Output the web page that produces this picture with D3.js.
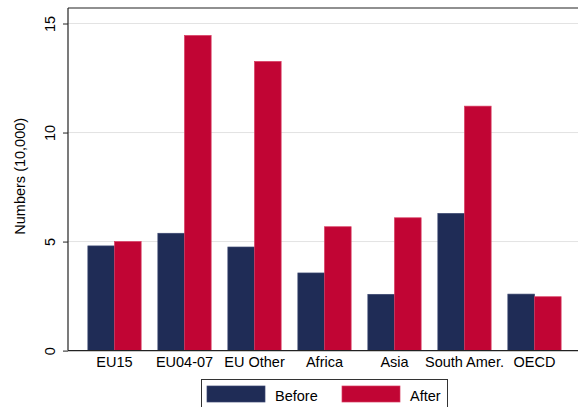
<!DOCTYPE html>
<html>
<head>
<meta charset="utf-8">
<script src="https://cdn.jsdelivr.net/npm/d3@7"></script>
<style>
  body { margin: 0; background: #fff; }
  svg { display: block; font-family: "Liberation Sans", Arial, sans-serif; }
</style>
</head>
<body>
<div id="chart"></div>
<script>
// data
const regions = ["EU15", "EU04-07", "EU Other", "Africa", "Asia", "South Amer.", "OECD"];
const before = [4.80, 5.38, 4.75, 3.56, 2.58, 6.29, 2.59];
const after = [5.00, 14.45, 13.26, 5.68, 6.09, 11.21, 2.47];
const seriesNames = ["Before", "After"];
const yTicks = [0, 5, 10, 15];

const width = 578, height = 407;
const margin = { top: 8, left: 68, bottom: 350.6, right: 581 };
const fontSize = 14.5;

const svg = d3.select("#chart")
  .append("svg")
  .attr("width", width)
  .attr("height", height);

const colors = d3.scaleOrdinal()
  .domain(seriesNames)
  .range(["#1f2c56", "#c10534"]);
const strokes = d3.scaleOrdinal()
  .domain(seriesNames)
  .range(["#3a4670", "#d83a60"]);

// scales
const x0 = d3.scaleBand()
  .domain(regions)
  .range([margin.left, margin.right])
  .paddingInner(0.239)
  .paddingOuter(0.284);
const x1 = d3.scaleBand()
  .domain(seriesNames)
  .range([0, x0.bandwidth()]);
const y = d3.scaleLinear()
  .domain([0, 15])
  .range([margin.bottom, 23.5]);

// gridlines
svg.append("g")
  .selectAll("line")
  .data(yTicks.filter(d => d > 0))
  .enter()
  .append("line")
  .attr("x1", margin.left)
  .attr("x2", width)
  .attr("y1", d => y(d))
  .attr("y2", d => y(d))
  .attr("stroke", "#e3e3e3")
  .attr("stroke-width", 1);

// bars
const rows = regions.map((r, i) => ({ region: r, values: [before[i], after[i]] }));
svg.append("g")
  .selectAll("g")
  .data(rows)
  .enter()
  .append("g")
  .attr("transform", d => `translate(${x0(d.region)},0)`)
  .selectAll("rect")
  .data(d => d.values.map((v, j) => ({ key: seriesNames[j], value: v })))
  .enter()
  .append("rect")
  .attr("x", d => x1(d.key))
  .attr("width", x1.bandwidth())
  .attr("y", d => y(d.value))
  .attr("height", d => y(0) - y(d.value))
  .attr("fill", d => colors(d.key))
  .attr("stroke", d => strokes(d.key))
  .attr("stroke-width", 0.7);

// frame: top and bottom lines (plot runs off the right edge)
svg.append("line")
  .attr("x1", margin.left).attr("x2", width + 5)
  .attr("y1", margin.top).attr("y2", margin.top)
  .attr("stroke", "#222").attr("stroke-width", 1.2);
svg.append("line")
  .attr("x1", margin.left).attr("x2", width + 5)
  .attr("y1", y(0)).attr("y2", y(0))
  .attr("stroke", "#222").attr("stroke-width", 1.2);

// y axis
const yAxis = svg.append("g")
  .attr("transform", `translate(${margin.left},0)`)
  .call(d3.axisLeft(y).tickValues(yTicks).tickSize(5).tickPadding(0));
yAxis.select(".domain")
  .attr("d", `M0,${margin.top}V${y(0)}`)
  .attr("stroke", "#222")
  .attr("stroke-width", 1.2);
yAxis.selectAll(".tick line").attr("stroke", "#222");
yAxis.selectAll(".tick text")
  .attr("transform", "rotate(-90)")
  .attr("x", 0)
  .attr("y", -13)
  .attr("dy", 0)
  .attr("text-anchor", "middle")
  .attr("font-size", fontSize)
  .attr("font-family", "Liberation Sans, Arial, sans-serif")
  .attr("fill", "#000");

// y axis title
svg.append("text")
  .attr("transform", `translate(25,${(margin.top + y(0)) / 2 - 3}) rotate(-90)`)
  .attr("text-anchor", "middle")
  .attr("font-size", fontSize)
  .attr("fill", "#000")
  .text("Numbers (10,000)");

// x labels
svg.append("g")
  .selectAll("text")
  .data(regions)
  .enter()
  .append("text")
  .attr("x", d => x0(d) + x0.bandwidth() / 2)
  .attr("y", 367)
  .attr("text-anchor", "middle")
  .attr("font-size", fontSize)
  .attr("fill", "#000")
  .text(d => d);

// legend
const legend = svg.append("g");
legend.append("rect")
  .attr("x", 201.5).attr("y", 379.5)
  .attr("width", 246).attr("height", 40)
  .attr("fill", "#fff")
  .attr("stroke", "#333")
  .attr("stroke-width", 1);
const legendX = [207, 342];
const items = legend.selectAll("g")
  .data(seriesNames)
  .enter()
  .append("g")
  .attr("transform", (d, i) => `translate(${legendX[i]},386)`);
items.append("rect")
  .attr("width", 58)
  .attr("height", 16)
  .attr("fill", d => colors(d))
  .attr("stroke", d => strokes(d))
  .attr("stroke-width", 0.7);
items.append("text")
  .attr("x", 68)
  .attr("y", 14.5)
  .attr("font-size", fontSize)
  .attr("fill", "#000")
  .text(d => d);
</script>
</body>
</html>
